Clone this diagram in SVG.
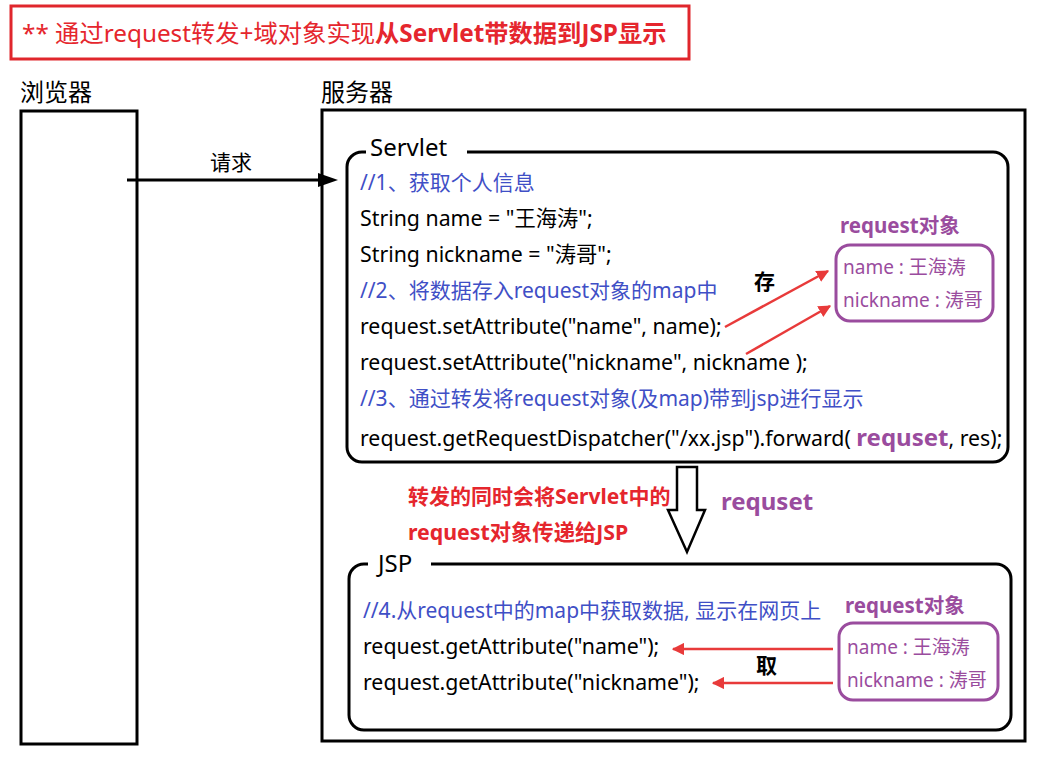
<svg xmlns="http://www.w3.org/2000/svg" width="1048" height="763" viewBox="0 0 1048 763">
<defs>
<style>
text{font-family:"Noto Sans","Noto Sans CJK SC",sans-serif;}
.box{fill:none;stroke:#000;stroke-width:3;}
.code{font-size:21.3px;fill:#000;}
.cmt{font-size:21px;fill:#3f4fc6;}
.pur{fill:#9a4c9e;}
.pbox{fill:none;stroke:#9a4c9e;stroke-width:3;}
.red{fill:#e5262d;}
.rarrow{stroke:#e83a3a;stroke-width:2.5;fill:none;}
.pt{font-size:19px;fill:#9a4c9e;}
.ph{font-size:20.5px;font-weight:bold;fill:#9a4c9e;}
</style>
<marker id="rh" viewBox="0 0 10 10" refX="9" refY="5" markerWidth="5" markerHeight="5" orient="auto" markerUnits="strokeWidth">
<path d="M0,0 L10,5 L0,10 z" fill="#e83a3a"/>
</marker>
</defs>
<rect width="1048" height="763" fill="#fff"/>

<g id="title">
<rect x="11" y="6" width="678" height="53" fill="none" stroke="#e0262c" stroke-width="3"/>
<text x="22" y="42" font-size="24.3" class="red">** 通过request转发+域对象实现<tspan font-weight="bold">从Servlet带数据到JSP显示</tspan></text>
</g>

<g id="browser">
<text x="20" y="101" font-size="24">浏览器</text>
<rect x="21" y="111" width="116" height="633" class="box"/>
</g>

<g id="server">
<text x="321" y="101" font-size="24">服务器</text>
<rect x="322" y="110" width="703" height="631" class="box"/>
</g>

<g id="servlet">
<path d="M467,152 H993 A15,15 0 0 1 1008,167 V447 A15,15 0 0 1 993,462 H362 A15,15 0 0 1 347,447 V167 A15,15 0 0 1 362,152 H366" class="box"/>
<text x="370" y="156" font-size="24">Servlet</text>
<text x="360" y="190" class="cmt">//1、获取个人信息</text>
<text x="360" y="226" class="code">String name = "王海涛";</text>
<text x="360" y="262" class="code">String nickname = "涛哥";</text>
<text x="360" y="298" class="cmt">//2、将数据存入request对象的map中</text>
<text x="360" y="334" class="code">request.setAttribute("name", name);</text>
<text x="360" y="370" class="code">request.setAttribute("nickname", nickname );</text>
<text x="360" y="406" class="cmt">//3、通过转发将request对象(及map)带到jsp进行显示</text>
<text x="360" y="446" class="code">request.getRequestDispatcher("/xx.jsp").forward( <tspan class="pur" font-weight="bold" font-size="24">requset</tspan>, res);</text>
</g>

<g id="req-obj-1">
<text x="840" y="233" class="ph">request对象</text>
<rect x="836" y="245" width="157" height="76" rx="14" class="pbox"/>
<text x="843" y="274" class="pt">name : 王海涛</text>
<text x="843" y="307" class="pt">nickname : 涛哥</text>
</g>

<g id="cun">
<text x="754" y="289" font-size="21" font-weight="bold">存</text>
</g>

<g id="jsp">
<path d="M431,564 H996 A15,15 0 0 1 1011,579 V715 A15,15 0 0 1 996,730 H364 A15,15 0 0 1 349,715 V579 A15,15 0 0 1 364,564 H368" class="box"/>
<text x="378" y="572" font-size="24">JSP</text>
<text x="363" y="618" class="cmt">//4.从request中的map中获取数据, 显示在网页上</text>
<text x="363" y="654" class="code">request.getAttribute("name");</text>
<text x="363" y="690" class="code">request.getAttribute("nickname");</text>
</g>

<g id="req-obj-2">
<text x="845" y="613" class="ph">request对象</text>
<rect x="839" y="623" width="159" height="77" rx="14" class="pbox"/>
<text x="847" y="654" class="pt">name : 王海涛</text>
<text x="847" y="687" class="pt">nickname : 涛哥</text>
</g>

<g id="qu">
<text x="756" y="673" font-size="21" font-weight="bold">取</text>
</g>

<g id="forward-note">
<text x="408" y="504" font-size="21" font-weight="bold" class="red">转发的同时会将Servlet中的</text>
<text x="408" y="540" font-size="21.3" font-weight="bold" class="red">request对象传递给JSP</text>
<text x="721" y="510" font-size="24" font-weight="bold" class="pur">requset</text>
</g>

<g id="connectors">
<line x1="127" y1="180" x2="322" y2="180" stroke="#000" stroke-width="3"/>
<polygon points="318,173 338,180 318,187" fill="#000"/>
<text x="210" y="170" font-size="21">请求</text>
<line x1="725" y1="327" x2="828" y2="271" class="rarrow" marker-end="url(#rh)"/>
<line x1="746" y1="354" x2="830" y2="306" class="rarrow" marker-end="url(#rh)"/>
<line x1="833" y1="649" x2="673" y2="649" class="rarrow" marker-end="url(#rh)"/>
<line x1="833" y1="683" x2="713" y2="683" class="rarrow" marker-end="url(#rh)"/>
<polygon points="677,467 697,467 697,510 705,510 687,552 668,510 677,510" fill="#fff" stroke="#000" stroke-width="2.5"/>
</g>
</svg>
